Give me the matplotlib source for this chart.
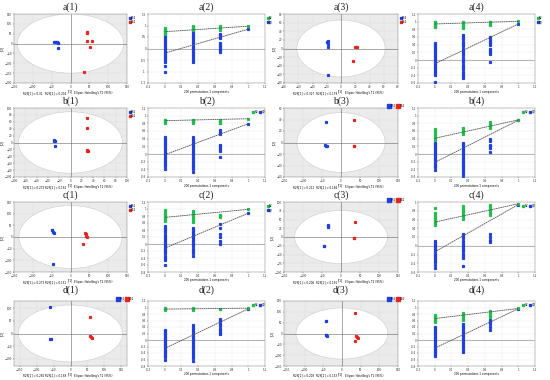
import matplotlib
matplotlib.use("Agg")
import matplotlib.pyplot as plt
import matplotlib.patches as patches
from matplotlib.lines import Line2D
import numpy as np

BLUE = "#1f3fe0"
RED = "#e8241c"
GREEN = "#1fbf4f"

# ---- score plots (t[1] vs t[2]) ----
A1_BLUE = [(-44, 10), (-41, 8), (-38, 6), (-36, 9), (-34, 4), (-33, 1), (-34, -25)]
A1_RED = [(44, 58), (45, 54), (45, 14), (58, 14), (52, -16), (36, -145)]
A3_BLUE = [(-19, 16), (-18, 17), (-19, 14), (-18, 10), (-18, 4), (-18, -62)]
A3_RED = [(20, 4), (21, 3), (22, 3), (17, -30)]
B1_BLUE = [(-29, 5), (-28, 4), (-29, 6), (-28, -10)]
B1_RED = [(30, 72), (30, 43), (30, -22), (31, -25), (30, -24)]
B3_BLUE = [(-40, 35), (-41, -5), (-40, -6), (-38, -6)]
B3_RED = [(34, 39), (34, -6), (35, -6)]
C1_BLUE = [(-50, 32), (-48, 28), (-46, 22), (-44, 18), (-47, -115)]
C1_RED = [(38, 17), (40, 14), (42, 6), (45, 0), (33, -28)]
C3_BLUE = [(-34, 34), (-33, 30), (-35, 31), (-46, -25), (-45, -26)]
C3_RED = [(36, 43), (33, -4), (35, -3)]
D1_BLUE = [(-60, 107), (-61, -21), (-59, -23)]
D1_RED = [(59, 67), (57, -11), (60, -14), (63, -16)]
D3_BLUE = [(-42, 60), (-42, 58), (-43, -5), (-42, -8), (-41, -12)]
D3_RED = [(34, 94), (38, -12), (40, -18), (42, -22), (36, -33)]

SCORE_LABELS = [("BS1", "CS1"), ("BS2", "CS2"), ("BS1", "CS1"), ("BS2", "CS2"),
                ("BS1", "CS1"), ("BS2", "CS2"), ("BS1", "CS1"), ("BS2", "CS2")]
R2X = [("0.31", "0.204"), ("0.327", "0.179"), ("0.273", "0.161"), ("0.212", "0.186"),
       ("0.273", "0.151"), ("0.206", "0.191"), ("0.281", "0.169"), ("0.208", "0.153")]

# ---- permutation tests: values at x = 0, 1/3, 2/3 and the end point at x = 1 ----
PERM_X = [0.0, 0.333, 0.667]

A2_R2 = [[0.62, 0.66, 0.70, 0.74, 0.78, 0.82, 0.86, 0.90],
         [0.79, 0.83, 0.87, 0.92, 0.96], [0.82, 0.86, 0.90, 0.96]]
A2_Q2 = [[0.65, 0.56, 0.47, 0.38, 0.29, 0.20, 0.11, 0.02, -0.07, -0.16, -0.25, -0.34, -0.43, -0.52, -0.60, -0.74, -1.0],
         [0.76, 0.67, 0.58, 0.49, 0.40, 0.31, 0.22, 0.13, 0.04, -0.05, -0.14, -0.23, -0.32, -0.41, -0.50, -0.60],
         [0.65, 0.60, 0.55, 0.50, 0.44, 0.24, 0.15, 0.08, 0.0, -0.08, -0.15]]
A2_END = (0.97, 0.84)
A2_INT = (0.73, -0.20)

A4_R2 = [[0.86, 0.88, 0.90, 0.92, 0.94, 0.96, 0.98, 1.0],
         [0.83, 0.86, 0.89, 0.92, 0.95, 0.98], [0.92, 0.95, 0.98, 1.0]]
A4_Q2 = [[0.45, 0.40, 0.35, 0.30, 0.25, 0.20, 0.15, 0.10, 0.05, 0.0, -0.05, -0.10, -0.15, -0.20, -0.25, -0.30, -0.35, -0.40, -0.57],
         [0.66, 0.60, 0.54, 0.48, 0.42, 0.36, 0.30, 0.24, 0.18, 0.12, 0.06, 0.0, -0.06, -0.12, -0.18, -0.24, -0.30, -0.36, -0.42, -0.47],
         [0.60, 0.55, 0.50, 0.45, 0.40, 0.30, 0.25, 0.20, 0.15, -0.06]]
A4_END = (1.01, 0.94)
A4_INT = (0.94, -0.10)

B2_R2 = [[0.82, 0.84, 0.86, 0.88, 0.90], [0.82, 0.84, 0.86, 0.88, 0.90], [0.80, 0.82, 0.84, 0.86, 0.88]]
B2_Q2 = [[0.45, 0.40, 0.35, 0.30, 0.25, 0.20, 0.15, 0.10, 0.05, 0.0, -0.05, -0.10, -0.15, -0.20, -0.25, -0.30, -0.38],
         [0.45, 0.40, 0.35, 0.30, 0.25, 0.20, 0.15, 0.10, 0.05, 0.0, -0.05, -0.10, -0.15, -0.20, -0.25, -0.30, -0.35, -0.40, -0.47],
         [0.63, 0.58, 0.53, 0.24, 0.20, 0.16, 0.12, 0.08, -0.07]]
B2_END = (0.92, 0.79)
B2_INT = (0.87, -0.02)

B4_R2 = [[0.65, 0.61, 0.57, 0.53, 0.49, 0.45, 0.41, 0.37], [0.69, 0.65, 0.61, 0.57, 0.52],
         [0.84, 0.80, 0.76, 0.72, 0.69]]
B4_Q2 = [[0.30, 0.25, 0.20, 0.15, 0.10, 0.05, 0.0, -0.05, -0.10, -0.15, -0.20, -0.25, -0.30, -0.35, -0.41],
         [0.30, 0.25, 0.20, 0.15, 0.10, 0.05, 0.0, -0.05, -0.10, -0.15, -0.20, -0.25, -0.30, -0.35, -0.40, -0.45, -0.50, -0.56, -0.63],
         [0.39, 0.35, 0.24, 0.20, 0.15, 0.04]]
B4_END = (0.89, 0.88)
B4_INT = (0.41, -0.22)

C2_R2 = [[0.65, 0.69, 0.73, 0.77, 0.81, 0.85, 0.89, 0.93, 0.97], [0.63, 0.68, 0.73, 0.78, 0.83, 0.88, 0.93],
         [0.76, 0.80, 0.83]]
C2_Q2 = [[0.51, 0.45, 0.39, 0.33, 0.27, 0.21, 0.15, 0.09, 0.03, -0.03, -0.09, -0.15, -0.21, -0.27, -0.33, -0.39, -0.45, -0.59],
         [0.47, 0.41, 0.35, 0.29, 0.23, 0.17, 0.11, 0.05, -0.01, -0.07, -0.13, -0.19, -0.25, -0.34],
         [0.56, 0.45, 0.30, 0.20, 0.10, 0.0]]
C2_END = (0.99, 0.88)
C2_INT = (0.76, -0.12)

C4_R2 = [[0.86, 0.74, 0.70, 0.66, 0.62, 0.58, 0.54, 0.50, 0.47], [0.90, 0.85, 0.80, 0.75, 0.70, 0.66, 0.62],
         [0.94, 0.89, 0.84, 0.80, 0.75, 0.70]]
C4_Q2 = [[0.12, 0.07, 0.02, -0.03, -0.08, -0.13, -0.18, -0.23, -0.28, -0.33, -0.38, -0.43, -0.50],
         [0.27, 0.22, 0.17, 0.12, 0.07, 0.02, -0.03, -0.08, -0.13, -0.18, -0.23, -0.27, -0.47],
         [0.27, 0.20, 0.14, 0.08]]
C4_END = (0.96, 0.94)
C4_INT = (0.54, -0.14)

D2_R2 = [[0.93, 0.95, 0.97], [0.93, 0.95, 0.97], [0.94, 0.96]]
D2_Q2 = [[0.32, 0.27, 0.22, 0.17, 0.12, 0.07, 0.02, -0.03, -0.08, -0.13, -0.18, -0.23, -0.28, -0.33, -0.38, -0.43, -0.48, -0.53, -0.60],
         [0.46, 0.40, 0.34, 0.28, 0.22, 0.16, 0.10, 0.04, -0.02, -0.08, -0.14, -0.20, -0.26, -0.32, -0.38, -0.44, -0.50, -0.56, -0.64],
         [0.65, 0.58, 0.50, 0.42, 0.35, 0.28, 0.22, 0.17]]
D2_END = (0.98, 0.96)
D2_INT = (0.95, -0.26)

D4_R2 = [[0.78, 0.74, 0.70, 0.66, 0.62, 0.58, 0.54], [0.82, 0.78, 0.74, 0.70, 0.66, 0.62],
         [0.90, 0.86, 0.82, 0.78, 0.74, 0.70]]
D4_Q2 = [[0.40, 0.34, 0.28, 0.22, 0.16, 0.10, 0.04, -0.02, -0.08, -0.14, -0.20, -0.26, -0.32, -0.38, -0.44, -0.50],
         [0.48, 0.42, 0.36, 0.30, 0.24, 0.18, 0.12, 0.06, 0.0, -0.06, -0.12, -0.18, -0.24, -0.30, -0.38],
         [0.62, 0.55, 0.48, 0.40, 0.32]]
D4_END = (0.97, 0.96)
D4_INT = (0.66, -0.25)

# panel layout in pixels of a 550 x 380 figure
COL_X = [(14, 127), (148, 265), (284, 398), (418, 535)]
ROW_Y = [(14, 83), (108, 177), (202, 272), (301, 366)]
TITLE_Y = [7, 101, 195, 290]
W, H = 550, 380

TICK_FS = 2.0


def add_axes(fig, row, col):
    x0, x1 = COL_X[col]
    y0, y1 = ROW_Y[row]
    ax = fig.add_axes([x0 / W, 1 - y1 / H, (x1 - x0) / W, (y1 - y0) / H])
    ax.tick_params(labelsize=TICK_FS, length=0.8, width=0.3, pad=0.6, colors="#333333")
    for spine in ax.spines.values():
        spine.set_linewidth(0.3)
        spine.set_color("#777777")
    return ax


def square(color, size):
    return Line2D([], [], marker="s", ls="none", color=color, markersize=size)


def draw_scores(ax, blue, red, xlim, ylim, xstep, ystep, ell, labels, big, r2x):
    ax.set_facecolor("#ebebeb")
    ax.add_patch(patches.Ellipse((0, 0), 2 * ell[0], 2 * ell[1], facecolor="white",
                                 edgecolor="#cccccc", lw=0.4, zorder=1))
    ax.grid(color="#d8d8d8", lw=0.25)
    ax.set_axisbelow(True)
    ax.axhline(0, color="#666666", lw=0.4, zorder=2)
    ax.axvline(0, color="#666666", lw=0.4, zorder=2)
    bx, by = zip(*blue)
    rx, ry = zip(*red)
    ax.plot(bx, by, "s", color=BLUE, markersize=1.3, zorder=3)
    ax.plot(rx, ry, "s", color=RED, markersize=1.3, zorder=3)
    lim = max(abs(xlim[0]), abs(xlim[1]))
    ax.set_xticks(np.arange(-lim // xstep * xstep, lim + 1e-9, xstep))
    lim = max(abs(ylim[0]), abs(ylim[1]))
    ax.set_yticks(np.arange(-lim // ystep * ystep, lim + 1e-9, ystep))
    ax.set_xlim(*xlim)
    ax.set_ylim(*ylim)
    ax.set_xlabel("t[1]", fontsize=TICK_FS, labelpad=0.3)
    ax.set_ylabel("t[2]", fontsize=TICK_FS, labelpad=0.4)
    for xf, txt in [(0.17, f"R2X[1] = {r2x[0]}"), (0.37, f"R2X[2] = {r2x[1]}"),
                    (0.70, "Ellipse: Hotelling's T2 (95%)")]:
        ax.text(xf, -0.12, txt, transform=ax.transAxes, fontsize=TICK_FS, ha="center", va="top")
    if big:
        ax.legend([square(BLUE, 3.2), square(RED, 3.2)], labels, loc="lower right",
                  bbox_to_anchor=(1.08, 0.98), ncol=2, fontsize=TICK_FS, frameon=False,
                  handlelength=0.8, handletextpad=0.2, columnspacing=0.5, borderpad=0.1)
    else:
        ax.legend([square(BLUE, 1.5), square(RED, 1.5)], labels, loc="upper left",
                  bbox_to_anchor=(1.0, 1.0), fontsize=TICK_FS, frameon=False,
                  handlelength=0.6, handletextpad=0.2, labelspacing=0.2, borderpad=0.1)


def draw_perm(ax, r2, q2, end, intercept, ylim, ystep, horiz):
    ax.grid(color="#e4e4e4", lw=0.25)
    ax.set_axisbelow(True)
    ax.axhline(0, color="#999999", lw=0.5, zorder=1)
    for x, vals in zip(PERM_X, q2):
        ax.plot([x] * len(vals), vals, "s", color=BLUE, markersize=1.3, zorder=3)
    for x, vals in zip(PERM_X, r2):
        ax.plot([x] * len(vals), vals, "s", color=GREEN, markersize=1.3, zorder=4)
    ax.plot([1], [end[1]], "s", color=BLUE, markersize=1.3, zorder=3)
    ax.plot([1], [end[0]], "s", color=GREEN, markersize=1.3, zorder=4)
    ax.plot([0, 1], [intercept[0], end[0]], ls=(0, (2, 0.6)), color="#555555", lw=0.6, zorder=5)
    ax.plot([0, 1], [intercept[1], end[1]], ls=(0, (2, 0.6)), color="#555555", lw=0.6, zorder=5)
    ax.set_xlim(-0.2, 1.2)
    ax.set_xticks(np.arange(-0.2, 1.21, 0.2))
    ax.set_xticklabels(["-0.2", "0", "0.2", "0.4", "0.6", "0.8", "1", "1.2"])
    ticks = np.arange(ylim[0], ylim[1] + 1e-9, ystep)
    ax.set_yticks(ticks)
    ax.set_yticklabels([f"{t:g}" if abs(t) > 1e-9 else "0" for t in ticks])
    ax.set_ylim(*ylim)
    ax.set_xlabel("200 permutations 1 components", fontsize=TICK_FS, labelpad=0.4)
    if horiz:
        ax.legend([square(GREEN, 1.5), square(BLUE, 1.5)], ["R2", "Q2"], loc="upper right",
                  bbox_to_anchor=(1.02, 1.0), ncol=2, fontsize=TICK_FS, frameon=False,
                  handlelength=0.6, handletextpad=0.2, columnspacing=0.5, borderpad=0.1)
    else:
        ax.legend([square(GREEN, 1.5), square(BLUE, 1.5)], ["R2", "Q2"], loc="upper left",
                  bbox_to_anchor=(1.0, 1.0), fontsize=TICK_FS, frameon=False,
                  handlelength=0.6, handletextpad=0.2, labelspacing=0.2, borderpad=0.1)


fig = plt.figure(figsize=(W / 100, H / 100), dpi=100)

score_panels = [
    (0, 0, A1_BLUE, A1_RED, (-150, 150), (-200, 150), 50, 50, (141, 150), False),
    (0, 2, A3_BLUE, A3_RED, (-80, 80), (-80, 80), 20, 20, (62, 66), False),
    (1, 0, B1_BLUE, B1_RED, (-100, 100), (-100, 100), 20, 20, (92, 89), False),
    (1, 2, B3_BLUE, B3_RED, (-150, 150), (-60, 60), 50, 20, (116, 52), True),
    (2, 0, C1_BLUE, C1_RED, (-150, 150), (-150, 150), 50, 50, (137, 135), False),
    (2, 2, C3_BLUE, C3_RED, (-150, 150), (-100, 100), 50, 25, (122, 76), True),
    (3, 0, D1_BLUE, D1_RED, (-167, 167), (-129, 129), 50, 50, (154, 113), True),
    (3, 2, D3_BLUE, D3_RED, (-155, 150), (-150, 150), 50, 50, (123, 118), True),
]
for i, (row, col, blue, red, xlim, ylim, xs, ys, ell, big) in enumerate(score_panels):
    ax = add_axes(fig, row, col)
    draw_scores(ax, blue, red, xlim, ylim, xs, ys, ell, SCORE_LABELS[i], big, R2X[i])

perm_panels = [
    (0, 1, A2_R2, A2_Q2, A2_END, A2_INT, (-1.5, 1.5), 0.5, False),
    (0, 3, A4_R2, A4_Q2, A4_END, A4_INT, (-0.6, 1.2), 0.2, False),
    (1, 1, B2_R2, B2_Q2, B2_END, B2_INT, (-0.6, 1.2), 0.2, True),
    (1, 3, B4_R2, B4_Q2, B4_END, B4_INT, (-0.6, 1.2), 0.2, True),
    (2, 1, C2_R2, C2_Q2, C2_END, C2_INT, (-0.8, 1.2), 0.2, False),
    (2, 3, C4_R2, C4_Q2, C4_END, C4_INT, (-0.6, 1.0), 0.2, True),
    (3, 1, D2_R2, D2_Q2, D2_END, D2_INT, (-0.8, 1.2), 0.2, True),
    (3, 3, D4_R2, D4_Q2, D4_END, D4_INT, (-0.8, 1.2), 0.2, True),
]
for row, col, r2, q2, end, intercept, ylim, ys, horiz in perm_panels:
    ax = add_axes(fig, row, col)
    draw_perm(ax, r2, q2, end, intercept, ylim, ys, horiz)

# panel titles
for row, letter in enumerate("abcd"):
    for col in range(4):
        x0, x1 = COL_X[col]
        fig.text((x0 + x1) / 2 / W, 1 - TITLE_Y[row] / H, f"{letter}({col + 1})",
                 ha="center", va="center", fontsize=7, family="Liberation Serif", color="#222222")

fig.savefig("out.png", dpi=100)
